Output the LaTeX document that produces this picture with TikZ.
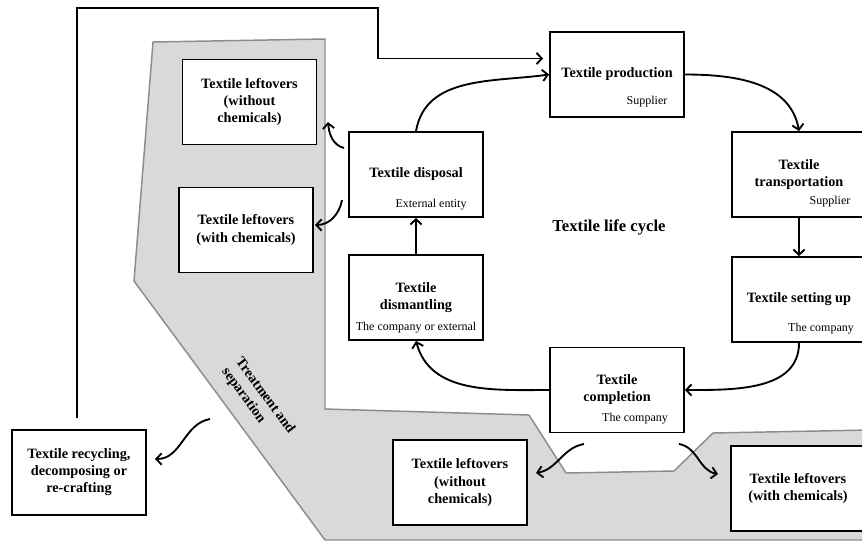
\documentclass[tikz,border=0pt]{standalone}
\usepackage{fontspec}
\setmainfont{Liberation Serif}
\usepackage{tikz}
\usetikzlibrary{shapes,positioning,calc}
\usetikzlibrary{arrows.meta}
\definecolor{zonegray}{HTML}{D9D9D9}
\definecolor{zoneline}{HTML}{8C8C8C}
\tikzstyle{stage} = [rectangle, minimum width=100.5pt, minimum height=63.75pt, text centered, align=center, draw=black, line width=1.4pt, fill=white, inner sep=2pt, font=\fontsize{10.7}{12.8}\selectfont\bfseries]
\tikzstyle{sub} = [inner sep=0pt, font=\fontsize{9}{10}\selectfont]
\tikzstyle{arrow} = [line width=1.4pt,-{Straight Barb[length=4pt,width=8.5pt]}]
\tikzstyle{zone} = [fill=zonegray, draw=zoneline, line width=1.1pt]

\begin{document}
\begin{tikzpicture}[x=0.75pt,y=-0.75pt]
	\clip (0,0) rectangle (862,542);
	\fill[white] (0,0) rectangle (862,542);
	\draw[zone] (153,42) -- (325,39) -- (325,409) -- (529,415) -- (566,473) -- (674,471) -- (713,433) -- (870,430) -- (870,540) -- (325,540) -- (134,281) -- cycle;
	\node (treat) at (258,401) [rotate=-53.6, align=left, inner sep=0pt, font=\fontsize{10.7}{12.8}\selectfont\bfseries] {Treatment and\\separation};
	\node (prod) at (617,74.5) [stage] {Textile production};
	\node (prodsub) at (647,102) [sub] {Supplier};
	\node (trans) at (799,174.5) [stage] {Textile\\transportation};
	\node (transsub) at (830,202) [sub] {Supplier};
	\node (set) at (799,299.5) [stage] {Textile setting up};
	\node (setsub) at (821,329) [sub] {The company};
	\node (compl) at (617,390) [stage] {Textile\\completion};
	\node (complsub) at (635,419) [sub] {The company};
	\node (dism) at (416,297.5) [stage] {Textile\\dismantling};
	\node (dismsub) at (416,328) [sub] {The company or external};
	\node (disp) at (416,174.5) [stage] {Textile disposal};
	\node (dispsub) at (431,205) [sub] {External entity};
	\node (lefttop) at (249.5,102) [stage] {Textile leftovers\\(without\\chemicals)};
	\node (leftmid) at (246,230) [stage] {Textile leftovers\\(with chemicals)};
	\node (recyc) at (79,472.5) [stage] {Textile recycling,\\decomposing or\\re-crafting};
	\node (botleft) at (460,482.5) [stage] {Textile leftovers\\(without\\chemicals)};
	\node (botright) at (798,488.5) [stage] {Textile leftovers\\(with chemicals)};
	\node (cycle) at (609,227) [font=\fontsize{12.5}{15}\selectfont\bfseries] {Textile life cycle};
	\draw[arrow] (disp.north) to[out=80,in=188] (prod.west);
	\draw[arrow] (prod.east) to[out=0,in=100] (trans.north);
	\draw[arrow] (trans) -- (set);
	\draw[arrow] (set.south) to[out=-90,in=0] (compl.east);
	\draw[arrow] (compl.west) to[out=180,in=-75] (dism.south);
	\draw[arrow] (dism) -- (disp);
	\coordinate (d1) at (344,148);
	\coordinate (d1end) at (328,122);
	\coordinate (d2) at (342,200);
	\coordinate (d2end) at (315,225);
	\coordinate (t1) at (210,419);
	\coordinate (t1end) at (155,459);
	\coordinate (c1) at (584,444);
	\coordinate (c1end) at (536,473);
	\coordinate (c2) at (679,444);
	\coordinate (c2end) at (718,474);
	\draw[arrow] (d1) to[out=165,in=-85] (d1end);
	\draw[arrow] (d2) to[out=-100,in=0] (d2end);
	\draw[arrow] (t1) to[out=190,in=0] (t1end);
	\draw[arrow] (c1) to[out=190,in=10] (c1end);
	\draw[arrow] (c2) to[out=-10,in=170] (c2end);
	\coordinate (rectop) at ($(recyc.north)+(-2,-11)$);
	\coordinate (corner) at (378,8);
	\coordinate (prodin) at ($(prod.west)+(-6,-16)$);
	\draw[arrow] (rectop) |- (corner) |- (prodin);
\end{tikzpicture}
\end{document}
